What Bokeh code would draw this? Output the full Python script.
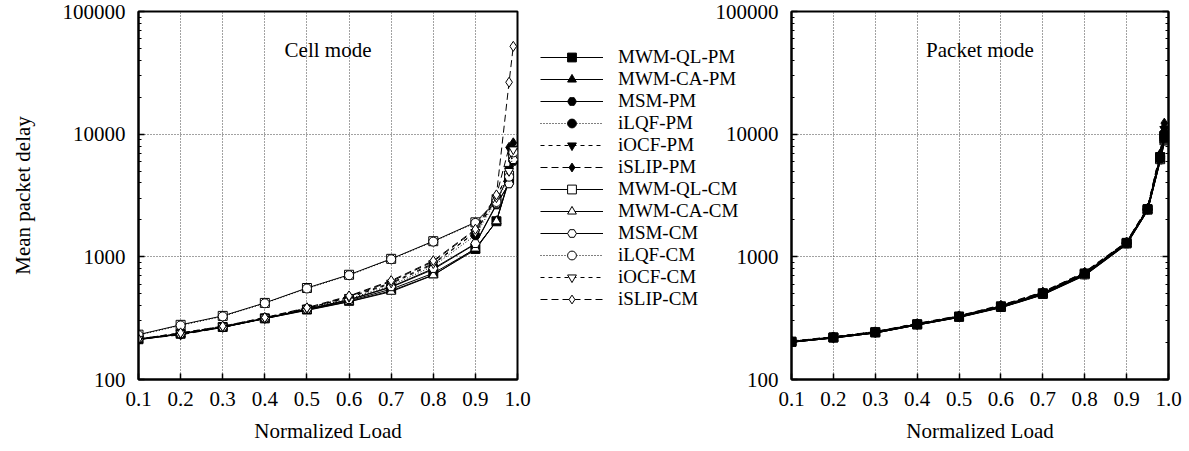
from bokeh.plotting import figure
from bokeh.models import (Legend, LegendItem, Label, LogAxis, FixedTicker, Range1d,
                          PrintfTickFormatter)
from bokeh.layouts import row
from bokeh.embed import file_html
from bokeh.resources import INLINE

FONT = "Liberation Serif"

# ---------------- data ----------------
load = [0.1, 0.2, 0.3, 0.4, 0.5, 0.6, 0.7, 0.8, 0.9, 0.95, 0.98, 0.99]
x_ticks = [0.1, 0.2, 0.3, 0.4, 0.5, 0.6, 0.7, 0.8, 0.9, 1.0]
y_ticks = [100, 1000, 10000, 100000]

series_names = ["MWM-QL-PM", "MWM-CA-PM", "MSM-PM", "iLQF-PM", "iOCF-PM", "iSLIP-PM",
                "MWM-QL-CM", "MWM-CA-CM", "MSM-CM", "iLQF-CM", "iOCF-CM", "iSLIP-CM"]

# Cell mode
cell_mwm_ql_pm = [213, 236, 268, 315, 372, 438, 545, 735, 1160, 1950, 4300, 6600]
cell_mwm_ca_pm = [211, 234, 266, 313, 369, 432, 528, 712, 1140, 1960, 4200, 6300]
cell_msm_pm    = [212, 235, 267, 315, 372, 445, 565, 790, 1270, 2650, 3950, 6000]
cell_ilqf_pm   = [214, 237, 269, 317, 377, 455, 585, 840, 1500, 2900, 4700, 7200]
cell_iocf_pm   = [214, 238, 270, 318, 380, 465, 605, 870, 1580, 3000, 5200, 7600]
cell_islip_pm  = [213, 231, 266, 314, 378, 475, 630, 915, 1650, 3150, 7800, 8500]
cell_mwm_ql_cm = [232, 279, 330, 421, 557, 714, 963, 1341, 1911, 2850, 4600, 6900]
cell_mwm_ca_cm = [212, 235, 266, 314, 366, 430, 520, 708, 1170, 1950, 4400, 6500]
cell_msm_cm    = [213, 236, 267, 316, 374, 448, 570, 803, 1282, 2700, 3935, 6200]
cell_ilqf_cm   = [230, 276, 327, 418, 552, 708, 955, 1330, 1890, 2800, 4500, 7100]
cell_iocf_cm   = [214, 239, 271, 319, 382, 470, 615, 885, 1590, 3050, 5000, 7500]
cell_islip_cm  = [214, 240, 272, 320, 385, 480, 640, 930, 1680, 3200, 26500, 52000]

# Packet mode
pkt_mwm_ql_pm = [203, 220, 243, 282, 326, 395, 505, 732, 1300, 2450, 6500, 9600]
pkt_mwm_ca_pm = [202, 219, 241, 280, 323, 389, 496, 715, 1280, 2420, 6200, 9000]
pkt_msm_pm    = [203, 220, 242, 281, 325, 392, 502, 725, 1290, 2430, 6300, 9300]
pkt_ilqf_pm   = [204, 221, 243, 283, 327, 396, 508, 735, 1305, 2460, 6600, 10200]
pkt_iocf_pm   = [204, 221, 244, 283, 328, 398, 510, 740, 1310, 2470, 6700, 11000]
pkt_islip_pm  = [205, 222, 245, 285, 330, 402, 515, 748, 1320, 2490, 6900, 12300]
pkt_mwm_ql_cm = [203, 220, 242, 281, 324, 390, 498, 720, 1285, 2425, 6250, 9100]
pkt_mwm_ca_cm = [202, 219, 241, 279, 322, 386, 492, 708, 1270, 2400, 6100, 8600]
pkt_msm_cm    = [202, 219, 241, 280, 323, 388, 495, 712, 1275, 2410, 6150, 8800]
pkt_ilqf_cm   = [203, 220, 242, 282, 325, 393, 503, 728, 1295, 2440, 6400, 9700]
pkt_iocf_cm   = [203, 221, 243, 282, 326, 394, 505, 730, 1300, 2445, 6450, 10000]
pkt_islip_cm  = [204, 221, 244, 284, 328, 399, 512, 742, 1312, 2475, 6800, 11500]

cell_values = [cell_mwm_ql_pm, cell_mwm_ca_pm, cell_msm_pm, cell_ilqf_pm, cell_iocf_pm, cell_islip_pm,
               cell_mwm_ql_cm, cell_mwm_ca_cm, cell_msm_cm, cell_ilqf_cm, cell_iocf_cm, cell_islip_cm]
pkt_values = [pkt_mwm_ql_pm, pkt_mwm_ca_pm, pkt_msm_pm, pkt_ilqf_pm, pkt_iocf_pm, pkt_islip_pm,
              pkt_mwm_ql_cm, pkt_mwm_ca_cm, pkt_msm_cm, pkt_ilqf_cm, pkt_iocf_cm, pkt_islip_cm]

# ---------------- styles ----------------
markers = ["square", "triangle", "hex", "circle", "inverted_triangle", "diamond"] * 2
fills = ["black"] * 6 + ["white"] * 6
dashes = ["solid", "solid", "solid", "1 2", "4 4", "7 4"] * 2
sizes = [9, 9, 9, 9, 9, 10] * 2

minor_y = [m * 10 ** e for e in range(2, 5) for m in range(2, 10)]


def make_fig(frame_w, min_left, min_right, ylabel, title, values, line_width, order, mirror):
    p = figure(frame_width=frame_w, frame_height=368,
               y_axis_type="log",
               x_range=Range1d(0.1, 1.0), y_range=Range1d(100, 100000),
               output_backend="svg", toolbar_location=None,
               min_border_left=min_left, min_border_right=min_right,
               min_border_top=11, min_border_bottom=72)
    p.background_fill_color = "white"
    p.outline_line_color = "black"
    p.outline_line_width = 2

    p.xaxis.ticker = FixedTicker(ticks=x_ticks)
    p.xaxis.formatter = PrintfTickFormatter(format="%.1f")
    p.yaxis.ticker = FixedTicker(ticks=y_ticks, minor_ticks=minor_y)
    p.yaxis.formatter = PrintfTickFormatter(format="%d")
    for ax in (p.xaxis, p.yaxis):
        ax.axis_line_width = 2
        ax.axis_line_color = "black"
        ax.major_tick_in = 6
        ax.major_tick_out = 0
        ax.minor_tick_in = 3
        ax.minor_tick_out = 0
        ax.major_tick_line_width = 1.5
        ax.major_label_text_font = FONT
        ax.major_label_text_font_size = "21px"
        ax.major_label_text_color = "black"
        ax.axis_label_text_font = FONT
        ax.axis_label_text_font_size = "21px"
        ax.axis_label_text_font_style = "normal"
        ax.axis_label_text_color = "black"
    p.xaxis.minor_tick_line_color = None
    p.xaxis.major_label_standoff = 12
    p.xaxis.axis_label = "Normalized Load"
    p.xaxis.axis_label_standoff = 10
    p.yaxis.major_label_standoff = 13
    if ylabel:
        p.yaxis.axis_label = ylabel
        p.yaxis.axis_label_standoff = 25

    if mirror:
        rax = LogAxis(ticker=FixedTicker(ticks=y_ticks, minor_ticks=minor_y))
        rax.major_label_text_font_size = "1px"
        rax.major_label_text_alpha = 0
        rax.major_label_standoff = 1
        rax.axis_line_width = 2
        rax.major_tick_in = 6
        rax.major_tick_out = 0
        rax.minor_tick_in = 3
        rax.minor_tick_out = 0
        rax.major_tick_line_width = 1.5
        p.add_layout(rax, "right")

    for g in (p.xgrid, p.ygrid):
        g.grid_line_color = "#444444"
        g.grid_line_dash = "1 2"
        g.grid_line_width = 1
    p.ygrid.minor_grid_line_color = None

    renderers = {}
    for i in order:
        lr = p.line(load, values[i], line_color="black", line_width=line_width,
                    line_dash=dashes[i])
        sr = p.scatter(load, values[i], marker=markers[i], size=sizes[i],
                       fill_color=fills[i], line_color="black", line_width=1)
        renderers[i] = (lr, sr)

    p.add_layout(Label(x=0.55, y=49000, text=title, text_font=FONT,
                       text_font_size="21px", text_align="center",
                       text_baseline="middle", text_color="black"))
    return p, renderers


n = len(series_names)
P1_RIGHT = 660
p1, rends1 = make_fig(379, 138, P1_RIGHT, "Mean packet delay", "Cell mode", cell_values, 1,
                      list(range(n)), False)
p2, _ = make_fig(377, 256, 21, None, "Packet mode", pkt_values, 1.5,
                 list(reversed(range(n))), True)
p2.border_fill_alpha = 0

items = [LegendItem(label=series_names[i], renderers=list(rends1[i])) for i in range(n)]
legend = Legend(items=items, location=(23, 69), orientation="vertical",
                border_line_color=None, background_fill_alpha=0,
                padding=0, spacing=0, margin=0,
                glyph_width=63, glyph_height=22, label_height=22,
                label_standoff=15, label_text_font=FONT,
                label_text_font_size="19px", label_text_color="black",
                label_text_baseline="middle")
p1.add_layout(legend, "right")

p1_width = 138 + 379 + P1_RIGHT
p2.margin = (0, 0, 0, 535 - p1_width)

layout = row(p1, p2)
open("out.html", "w").write(file_html(layout, INLINE))
